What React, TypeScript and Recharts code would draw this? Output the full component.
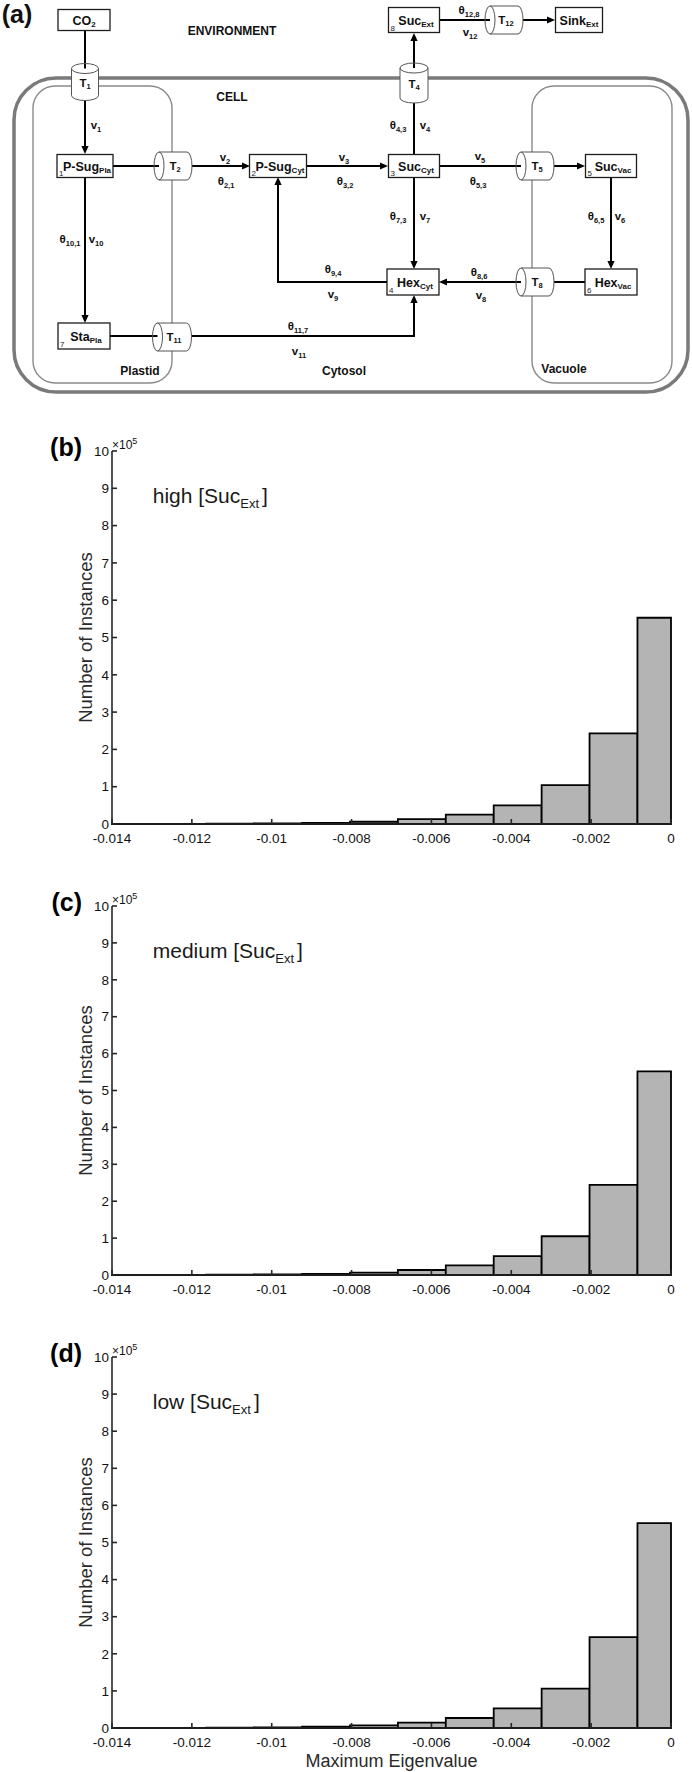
import React from "react";
import {
  ComposedChart,
  ScatterChart,
  Scatter,
  XAxis,
  YAxis,
  ReferenceArea,
  ReferenceLine,
  ReferenceDot,
} from "recharts";

const FONT = "'Liberation Sans', Arial, Helvetica, sans-serif";

// ---------- panel (a): network diagram (diagram units = px) ----------
const regions = [
  { x1: 14, x2: 688, y1: 78, y2: 392, r: 42, outer: true },
  { x1: 33, x2: 172, y1: 86, y2: 383, r: 22, outer: false },
  { x1: 532, x2: 672, y1: 86, y2: 383, r: 22, outer: false },
];

const pools = [
  { x: 84, y: 20, w: 52, h: 21, main: "CO", sub: "2", num: "" },
  { x: 85, y: 166, w: 56, h: 23, main: "P-Sug", sub: "Pla", num: "1" },
  { x: 278, y: 166, w: 57, h: 23, main: "P-Sug", sub: "Cyt", num: "2" },
  { x: 414, y: 166, w: 51, h: 23, main: "Suc", sub: "Cyt", num: "3" },
  { x: 413, y: 282, w: 52, h: 26, main: "Hex", sub: "Cyt", num: "4" },
  { x: 611, y: 166, w: 51, h: 23, main: "Suc", sub: "Vac", num: "5" },
  { x: 611, y: 282, w: 52, h: 26, main: "Hex", sub: "Vac", num: "6" },
  { x: 84, y: 336, w: 52, h: 26, main: "Sta", sub: "Pla", num: "7" },
  { x: 414, y: 20, w: 51, h: 25, main: "Suc", sub: "Ext", num: "8" },
  { x: 579, y: 20, w: 47, h: 25, main: "Sink", sub: "Ext", num: "" },
];

const transporters = [
  { x: 85, y: 82, w: 27, h: 37, sub: "1", vertical: true },
  { x: 173, y: 166, w: 38, h: 28, sub: "2", vertical: false },
  { x: 414, y: 83, w: 28, h: 40, sub: "4", vertical: true },
  { x: 535, y: 166, w: 38, h: 28, sub: "5", vertical: false },
  { x: 535, y: 282, w: 38, h: 28, sub: "8", vertical: false },
  { x: 172, y: 337, w: 39, h: 28, sub: "11", vertical: false },
  { x: 504, y: 20, w: 38, h: 28, sub: "12", vertical: false },
];

const fluxes = [
  { pts: [[85, 30], [85, 154]] },
  { pts: [[113, 166], [250, 166]] },
  { pts: [[307, 166], [388, 166]] },
  { pts: [[439, 166], [585, 166]] },
  { pts: [[414, 154], [414, 33]] },
  { pts: [[439, 20], [555, 20]] },
  { pts: [[414, 177], [414, 269]] },
  { pts: [[611, 177], [611, 269]] },
  { pts: [[585, 282], [439, 282]] },
  { pts: [[387, 282], [278, 282], [278, 177]] },
  { pts: [[85, 177], [85, 323]] },
  { pts: [[110, 336], [414, 336], [414, 295]] },
];

const fluxLabels = [
  { x: 96, y: 126, main: "v", sub: "1" },
  { x: 225, y: 158, main: "v", sub: "2" },
  { x: 226, y: 182, main: "θ", sub: "2,1" },
  { x: 344, y: 158, main: "v", sub: "3" },
  { x: 345, y: 182, main: "θ", sub: "3,2" },
  { x: 398, y: 126, main: "θ", sub: "4,3" },
  { x: 425, y: 126, main: "v", sub: "4" },
  { x: 480, y: 157, main: "v", sub: "5" },
  { x: 478, y: 182, main: "θ", sub: "5,3" },
  { x: 596, y: 217, main: "θ", sub: "6,5" },
  { x: 620, y: 217, main: "v", sub: "6" },
  { x: 398, y: 217, main: "θ", sub: "7,3" },
  { x: 425, y: 217, main: "v", sub: "7" },
  { x: 479, y: 273, main: "θ", sub: "8,6" },
  { x: 481, y: 296, main: "v", sub: "8" },
  { x: 333, y: 270, main: "θ", sub: "9,4" },
  { x: 333, y: 295, main: "v", sub: "9" },
  { x: 70, y: 240, main: "θ", sub: "10,1" },
  { x: 96, y: 240, main: "v", sub: "10" },
  { x: 298, y: 327, main: "θ", sub: "11,7" },
  { x: 299, y: 352, main: "v", sub: "11" },
  { x: 469, y: 11, main: "θ", sub: "12,8" },
  { x: 470, y: 33, main: "v", sub: "12" },
];

const regionLabels = [
  { x: 17, y: 14, text: "(a)", big: true },
  { x: 232, y: 31, text: "ENVIRONMENT", big: false },
  { x: 232, y: 97, text: "CELL", big: false },
  { x: 140, y: 371, text: "Plastid", big: false },
  { x: 344, y: 371, text: "Cytosol", big: false },
  { x: 564, y: 369, text: "Vacuole", big: false },
];

// ---------- panels (b)-(d): histograms of max eigenvalue ----------
const binEdges = [
  -0.01404, -0.01284, -0.01164, -0.01044, -0.00924, -0.00804, -0.00684,
  -0.00564, -0.00444, -0.00324, -0.00204, -0.00084, 0.00036,
];
// counts in units of 10^5
const countsHigh = [0.001, 0.003, 0.007, 0.015, 0.03, 0.06, 0.13, 0.25, 0.5, 1.04, 2.43, 5.53];
const countsMedium = [0.001, 0.003, 0.008, 0.016, 0.032, 0.065, 0.135, 0.26, 0.51, 1.05, 2.44, 5.52];
const countsLow = [0.001, 0.003, 0.008, 0.017, 0.035, 0.07, 0.145, 0.27, 0.53, 1.06, 2.45, 5.52];
const xTicks = [-0.014, -0.012, -0.01, -0.008, -0.006, -0.004, -0.002, 0];
const yTicks = [0, 1, 2, 3, 4, 5, 6, 7, 8, 9, 10];
const levels = ["high", "medium", "low"];
const letters = ["(b)", "(c)", "(d)"];

const xDomain: [number, number] = [xTicks[0], xTicks[xTicks.length - 1]];
const yDomain: [number, number] = [yTicks[0], yTicks[yTicks.length - 1]];

const fmtX = (v: number) => (v === 0 ? "0" : String(parseFloat(v.toFixed(3))));

function PoolShape(props: any) {
  const { cx, cy, payload } = props;
  const { w, h, main, sub, num } = payload;
  const x0 = cx - w / 2;
  const y0 = cy - h / 2;
  return (
    <g>
      <rect x={x0} y={y0} width={w} height={h} fill="#fff" stroke="#1e1e1e" strokeWidth={1.3} />
      <text
        x={cx + (num ? 2 : 0)}
        y={cy + 4.5}
        textAnchor="middle"
        fontFamily={FONT}
        fontWeight="bold"
        fontSize={12.5}
        fill="#111"
      >
        <tspan>{main}</tspan>
        <tspan fontSize={8} dy={2}>
          {sub}
        </tspan>
      </text>
      {num ? (
        <text x={x0 + 2} y={y0 + h - 2} fontFamily={FONT} fontSize={8} fill="#222">
          {num}
        </text>
      ) : null}
    </g>
  );
}

function TransporterShape(props: any) {
  const { cx, cy, payload } = props;
  const { w, h, sub, vertical } = payload;
  const e = 5;
  let fillD: string;
  let lineD: string;
  let cap: React.ReactNode;
  if (vertical) {
    const rx = w / 2;
    const yT = cy - h / 2 + e;
    const yB = cy + h / 2 - e;
    lineD = `M${cx - rx},${yT} L${cx - rx},${yB} A${rx},${e} 0 0 0 ${cx + rx},${yB} L${cx + rx},${yT}`;
    fillD = lineD + " Z";
    cap = <ellipse cx={cx} cy={yT} rx={rx} ry={e} fill="none" stroke="#555" strokeWidth={1} />;
  } else {
    const ry = h / 2;
    const xL = cx - w / 2 + e;
    const xR = cx + w / 2 - e;
    lineD = `M${xL},${cy - ry} L${xR},${cy - ry} A${e},${ry} 0 0 1 ${xR},${cy + ry} L${xL},${cy + ry}`;
    fillD = lineD + " Z";
    cap = <ellipse cx={xL} cy={cy} rx={e} ry={ry} fill="none" stroke="#555" strokeWidth={1} />;
  }
  return (
    <g>
      <path d={fillD} fill="#fff" stroke="none" />
      <path d={lineD} fill="none" stroke="#555" strokeWidth={1} />
      {cap}
      <text
        x={cx + (vertical ? 0 : 2)}
        y={cy + (vertical ? 5 : 4)}
        textAnchor="middle"
        fontFamily={FONT}
        fontWeight="bold"
        fontSize={11.5}
        fill="#111"
      >
        <tspan>T</tspan>
        <tspan fontSize={7.5} dy={2}>
          {sub}
        </tspan>
      </text>
    </g>
  );
}

function FluxLabelShape(props: any) {
  const { cx, cy, payload } = props;
  return (
    <text x={cx} y={cy + 3} textAnchor="middle" fontFamily={FONT} fontWeight="bold" fontSize={11.5} fill="#111">
      <tspan>{payload.main}</tspan>
      <tspan fontSize={7.5} dy={2.5}>
        {payload.sub}
      </tspan>
    </text>
  );
}

function RegionLabelShape(props: any) {
  const { cx, cy, payload } = props;
  return (
    <text
      x={cx}
      y={cy}
      textAnchor="middle"
      dominantBaseline="central"
      fontFamily={FONT}
      fontWeight="bold"
      fontSize={payload.big ? 25 : 12}
      fill="#111"
    >
      {payload.text}
    </text>
  );
}

const roundRect = (r: number, outer: boolean) => (p: any) => (
  <rect
    x={p.x}
    y={p.y}
    width={p.width}
    height={p.height}
    rx={r}
    ry={r}
    fill="none"
    stroke={outer ? "#7a7a7a" : "#8a8a8a"}
    strokeWidth={outer ? 3.5 : 1.4}
  />
);

const arrowSeg = (head: boolean) => (p: any) => {
  const { x1, y1, x2, y2 } = p;
  const ang = Math.atan2(y2 - y1, x2 - x1);
  const L = 8;
  const W = 3.6;
  const bx = x2 - L * Math.cos(ang);
  const by = y2 - L * Math.sin(ang);
  const nx = -Math.sin(ang) * W;
  const ny = Math.cos(ang) * W;
  return (
    <g>
      <line
        x1={x1}
        y1={y1}
        x2={head ? bx : x2}
        y2={head ? by : y2}
        stroke="#000"
        strokeWidth={2}
        strokeLinecap="square"
      />
      {head ? (
        <polygon points={`${x2},${y2} ${bx + nx},${by + ny} ${bx - nx},${by - ny}`} fill="#000" />
      ) : null}
    </g>
  );
};

function NetworkDiagram() {
  return (
    <div style={{ position: "absolute", left: 0, top: 0, width: 692, height: 400 }}>
      <ScatterChart width={692} height={400} margin={{ top: 0, right: 0, bottom: 0, left: 0 }}>
        <XAxis type="number" dataKey="x" domain={[0, 692]} hide allowDataOverflow />
        <YAxis type="number" dataKey="y" domain={[0, 400]} reversed hide allowDataOverflow />
        {regions.map((c, i) => (
          <ReferenceArea
            key={`reg${i}`}
            x1={c.x1}
            x2={c.x2}
            y1={c.y1}
            y2={c.y2}
            ifOverflow="visible"
            shape={roundRect(c.r, c.outer)}
          />
        ))}
        {fluxes.flatMap((f, i) =>
          f.pts.slice(1).map((pt, j) => (
            <ReferenceLine
              key={`fl${i}-${j}`}
              ifOverflow="visible"
              segment={[
                { x: f.pts[j][0], y: f.pts[j][1] },
                { x: pt[0], y: pt[1] },
              ]}
              shape={arrowSeg(j === f.pts.length - 2)}
            />
          ))
        )}
        <Scatter data={pools} shape={PoolShape} isAnimationActive={false} />
        <Scatter data={transporters} shape={TransporterShape} isAnimationActive={false} />
        <Scatter data={fluxLabels} shape={FluxLabelShape} isAnimationActive={false} />
        <Scatter data={regionLabels} shape={RegionLabelShape} isAnimationActive={false} />
      </ScatterChart>
    </div>
  );
}

const AXIS = "#262626";

function Histogram({
  counts,
  letter,
  level,
  plotTop,
  plotHeight,
  xLabel,
}: {
  counts: number[];
  letter: string;
  level: string;
  plotTop: number;
  plotHeight: number;
  xLabel: boolean;
}) {
  const mt = 40;
  const axisH = 30;
  const mb = xLabel ? 14 : 6;
  const height = mt + plotHeight + axisH + mb;
  const bins = counts.map((c, i) => ({
    lo: Math.max(binEdges[i], xDomain[0]),
    hi: Math.min(binEdges[i + 1], xDomain[1]),
    mid: (binEdges[i] + binEdges[i + 1]) / 2,
    count: c,
  }));

  const yLabel = (props: any) => {
    const vb = props.viewBox;
    const right = vb.x + vb.width;
    const lx = vb.x + 20;
    const ly = vb.y + vb.height / 2;
    return (
      <g fontFamily={FONT}>
        <text x={lx} y={ly} transform={`rotate(-90 ${lx} ${ly})`} textAnchor="middle" fontSize={18.5} fill="#2a2a2a">
          Number of Instances
        </text>
        <text x={right - 30} y={vb.y + 5} textAnchor="end" fontWeight="bold" fontSize={25} fill="#000">
          {letter}
        </text>
        <text x={right} y={vb.y - 2} fontSize={12} fill="#111">
          ×10
          <tspan dy={-5} fontSize={9}>
            5
          </tspan>
        </text>
      </g>
    );
  };

  const xLab = (props: any) => {
    const vb = props.viewBox;
    return (
      <text x={vb.x + vb.width / 2} y={vb.y + 39} textAnchor="middle" fontFamily={FONT} fontSize={18} fill="#2a2a2a">
        Maximum Eigenvalue
      </text>
    );
  };

  return (
    <div style={{ position: "absolute", left: 0, top: plotTop - mt, width: 692, height }}>
      <ComposedChart width={692} height={height} data={bins} margin={{ top: mt, right: 21, bottom: mb, left: 72 }}>
        <XAxis
          type="number"
          dataKey="mid"
          domain={xDomain}
          ticks={xTicks}
          interval={0}
          allowDataOverflow
          height={axisH}
          tickSize={-5}
          tickMargin={14}
          stroke={AXIS}
          strokeWidth={1.6}
          tick={{ fill: "#111", fontSize: 13.5, fontFamily: FONT }}
          tickFormatter={fmtX}
          label={xLabel ? xLab : undefined}
        />
        <XAxis
          xAxisId="top"
          orientation="top"
          type="number"
          dataKey="mid"
          domain={xDomain}
          ticks={xTicks}
          interval={0}
          allowDataOverflow
          height={0}
          tickSize={-5}
          tick={false}
          stroke={AXIS}
          strokeWidth={1.6}
        />
        <YAxis
          type="number"
          dataKey="count"
          domain={yDomain}
          ticks={yTicks}
          interval={0}
          allowDataOverflow
          width={40}
          tickSize={-5}
          tickMargin={8}
          stroke={AXIS}
          strokeWidth={1.6}
          tick={{ fill: "#111", fontSize: 13.5, fontFamily: FONT }}
          label={yLabel}
        />
        <YAxis
          yAxisId="right"
          orientation="right"
          type="number"
          dataKey="count"
          domain={yDomain}
          ticks={yTicks}
          interval={0}
          allowDataOverflow
          width={0}
          tickSize={-5}
          tick={false}
          stroke={AXIS}
          strokeWidth={1.6}
        />
        {bins.map((b, i) => (
          <ReferenceArea
            key={i}
            x1={b.lo}
            x2={b.hi}
            y1={0}
            y2={b.count}
            fill="#b4b4b4"
            fillOpacity={1}
            stroke="#000"
            strokeWidth={1.8}
          />
        ))}
        <ReferenceDot
          x={-0.01298}
          y={8.6}
          r={0}
          shape={(p: any) => (
            <text x={p.cx} y={p.cy} fontFamily={FONT} fontSize={21} fill="#1a1a1a">
              {`${level} [Suc`}
              <tspan fontSize={13} dy={5}>
                Ext
              </tspan>
              <tspan dy={-5} dx={3}>
                ]
              </tspan>
            </text>
          )}
        />
      </ComposedChart>
    </div>
  );
}

const panelCounts = [countsHigh, countsMedium, countsLow];
const panelTops = [451, 906, 1357];
const panelHeights = [373, 369, 371];

export default function App() {
  return (
    <div style={{ position: "absolute", left: 0, top: 0, width: 692, height: 1772, background: "#fff" }}>
      <NetworkDiagram />
      {panelCounts.map((c, i) => (
        <Histogram
          key={i}
          counts={c}
          letter={letters[i]}
          level={levels[i]}
          plotTop={panelTops[i]}
          plotHeight={panelHeights[i]}
          xLabel={i === 2}
        />
      ))}
    </div>
  );
}
